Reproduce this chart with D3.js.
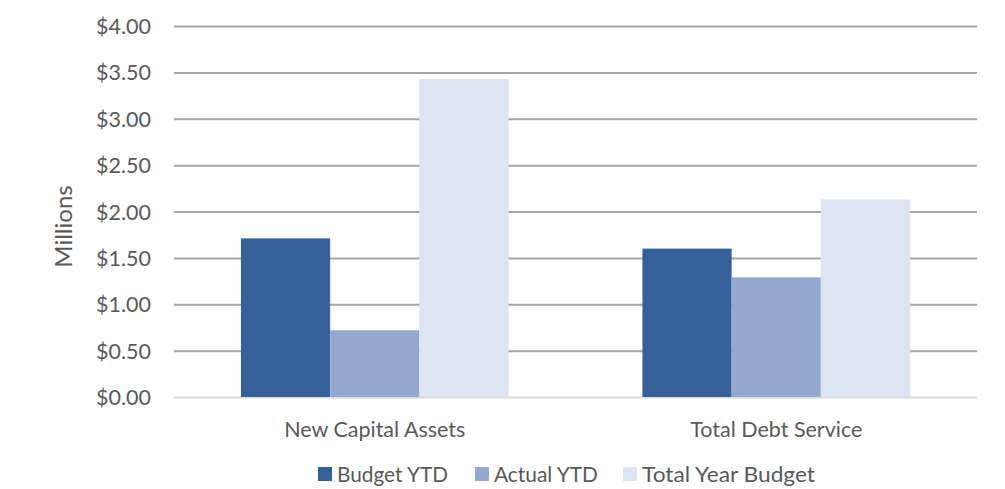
<!DOCTYPE html>
<html><head><meta charset="utf-8">
<script src="https://cdn.jsdelivr.net/npm/d3@7"></script>
<style>body{margin:0;background:#fff}svg{display:block}text{font-family:Lato,"Open Sans",sans-serif;fill:#595959}</style>
</head><body><svg id="c" width="1005" height="489"></svg>
<script>
const categories = ["New Capital Assets", "Total Debt Service"];
const seriesNames = ["Budget YTD", "Actual YTD", "Total Year Budget"];
const budgetYTD = [1.71, 1.60];
const actualYTD = [0.72, 1.29];
const totalYearBudget = [3.43, 2.13];
const yTicks = [0, 0.5, 1, 1.5, 2, 2.5, 3, 3.5, 4];
const colors = ["#36609A", "#95A9D0", "#DCE5F1"];

const series = [budgetYTD, actualYTD, totalYearBudget];
const svg = d3.select("#c");
const L = 174, R = 977, T = 26, B = 397;
const x0 = d3.scaleBand().domain(categories).range([L, R]).paddingInner(0).paddingOuter(0);
const bw = x0.bandwidth();
const barW = bw / 4.5;
const x1 = d3.scaleBand().domain(seriesNames).range([bw/2 - 1.5*barW, bw/2 + 1.5*barW]);
const y = d3.scaleLinear().domain([0, 4]).range([B, T]);

// gridlines
const yAxis = d3.axisLeft(y).tickValues(yTicks).tickSize(-(R - L)).tickFormat(d => "$" + d3.format(".2f")(d));
const gy = svg.append("g").attr("transform", `translate(${L},0)`).call(yAxis);
gy.select(".domain").remove();
gy.selectAll(".tick line").attr("stroke", d => d === 0 ? "#D9D9D9" : "#A6A6A6").attr("stroke-width", 2);
gy.selectAll(".tick text").attr("x", -23).attr("dy", "0.35em").style("font-size", "21.5px").attr("fill", "#595959");

// bars
categories.forEach((c, ci) => {
  series.forEach((s, si) => {
    svg.append("rect")
      .attr("x", x0(c) + x1(seriesNames[si]))
      .attr("width", x1.bandwidth())
      .attr("y", y(s[ci]))
      .attr("height", y(0) - y(s[ci]))
      .attr("fill", colors[si]);
  });
});

// x labels
const xAxis = d3.axisBottom(x0).tickSize(0);
const gx = svg.append("g").attr("transform", `translate(0,${B})`).call(xAxis);
gx.select(".domain").remove();
gx.selectAll(".tick text").attr("y", 40).attr("dy", null).style("font-size", "21.5px").attr("fill", "#595959");

// y title
svg.append("text").attr("transform", `translate(72,226.5) rotate(-90)`)
  .attr("text-anchor", "middle").style("font-size", "24px").text("Millions");

// legend
const legX = [318, 475, 623];
const legLen = [111, 104, 173];
seriesNames.forEach((n, i) => {
  const g = svg.append("g").attr("transform", `translate(${legX[i]},474)`);
  g.append("rect").attr("x", 0).attr("y", -7).attr("width", 14).attr("height", 14).attr("fill", colors[i]);
  g.append("text").attr("x", 19).attr("y", 7.5).attr("textLength", legLen[i]).attr("lengthAdjust", "spacingAndGlyphs")
    .style("font-size", "21.5px").text(n);
});
</script></body></html>
